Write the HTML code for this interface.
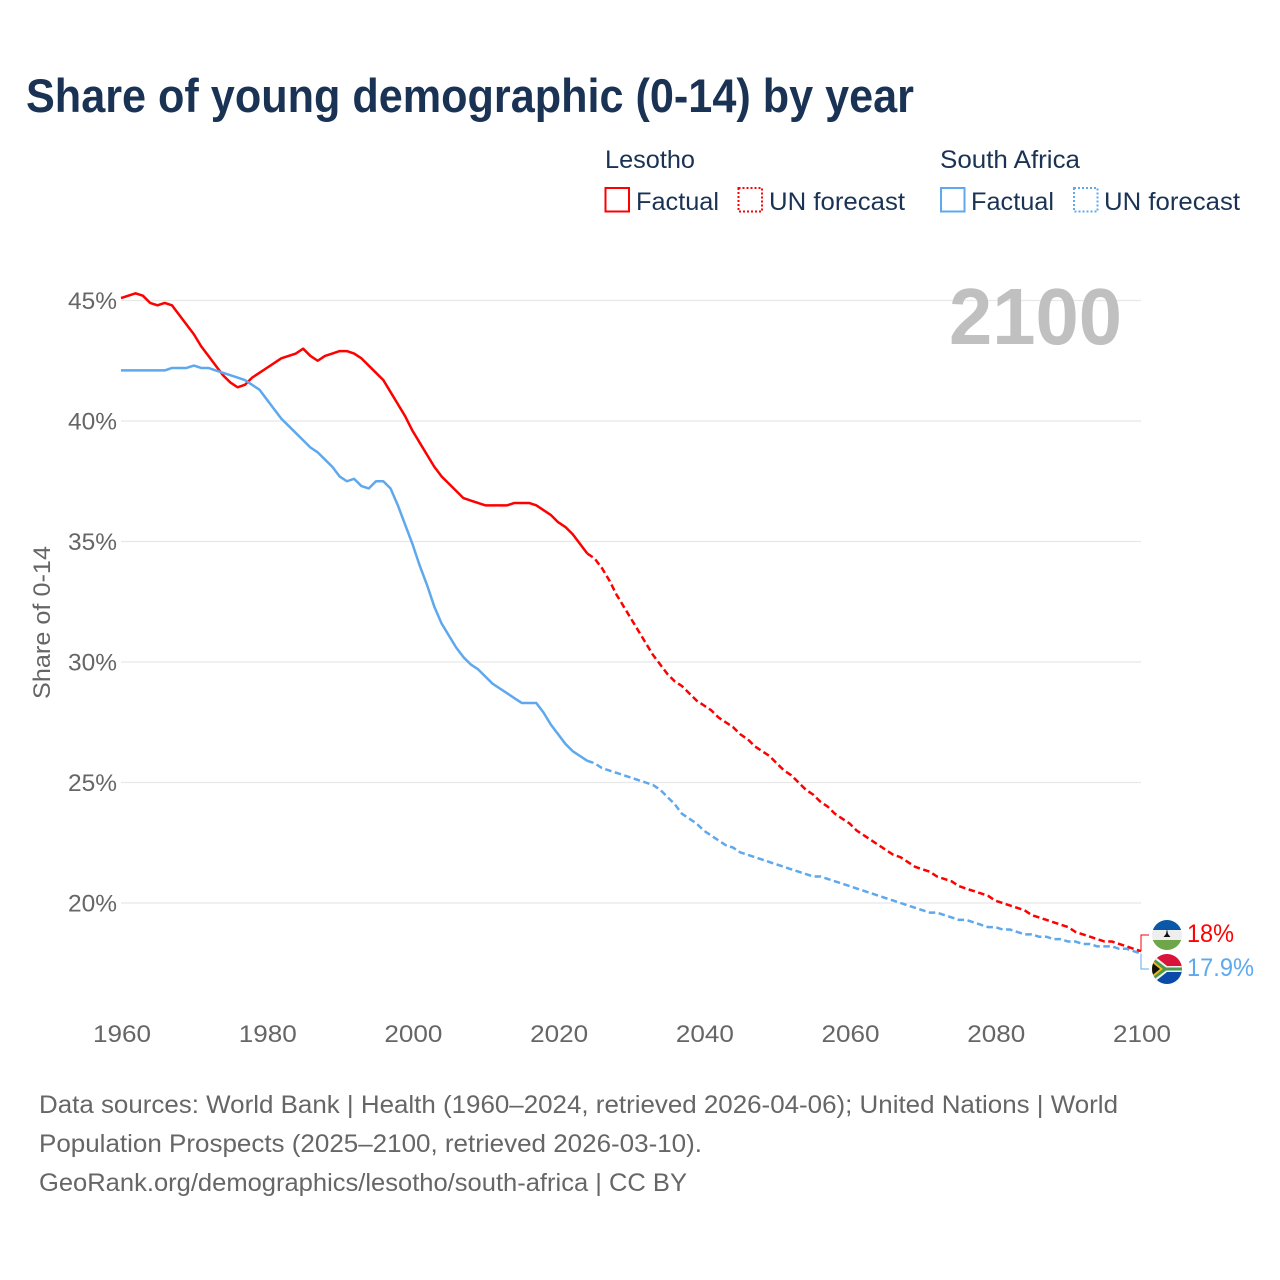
<!DOCTYPE html>
<html lang="en">
<head>
<meta charset="utf-8">
<title>Share of young demographic (0-14) by year</title>
<style>
html,body{margin:0;padding:0;background:#fff;}
svg{display:block;font-family:"Liberation Sans",sans-serif;}
.leg{font-size:25px;fill:#1a3355;}
.tick{font-size:24px;fill:#666;}
.src{font-size:25px;fill:#666;}
</style>
</head>
<body>
<svg id="chart" width="1280" height="1280" viewBox="0 0 1280 1280" xmlns="http://www.w3.org/2000/svg">
<defs>
<clipPath id="clip-ls"><circle cx="1167" cy="935" r="15"/></clipPath>
<clipPath id="clip-za"><circle cx="1167" cy="969" r="15"/></clipPath>
</defs>
<rect width="1280" height="1280" fill="#fff"/>
<text x="26" y="112" font-size="47" font-weight="700" fill="#1a3355" textLength="888" lengthAdjust="spacingAndGlyphs">Share of young demographic (0-14) by year</text>

<g>
<text class="leg" x="605" y="168" textLength="90" lengthAdjust="spacingAndGlyphs">Lesotho</text>
<text class="leg" x="940" y="168" textLength="140" lengthAdjust="spacingAndGlyphs">South Africa</text>
<rect x="605.5" y="188" width="23.5" height="23.5" fill="none" stroke="#ff0000" stroke-width="2"/>
<text class="leg" x="636" y="210" textLength="83" lengthAdjust="spacingAndGlyphs">Factual</text>
<rect x="738.5" y="188" width="23.5" height="23.5" fill="none" stroke="#ff0000" stroke-width="2" stroke-dasharray="2 2"/>
<text class="leg" x="769" y="210" textLength="136" lengthAdjust="spacingAndGlyphs">UN forecast</text>
<rect x="941" y="188" width="23.5" height="23.5" fill="none" stroke="#5ea8ee" stroke-width="2"/>
<text class="leg" x="971" y="210" textLength="83" lengthAdjust="spacingAndGlyphs">Factual</text>
<rect x="1074" y="188" width="23.5" height="23.5" fill="none" stroke="#5ea8ee" stroke-width="2" stroke-dasharray="2 2"/>
<text class="leg" x="1104" y="210" textLength="136" lengthAdjust="spacingAndGlyphs">UN forecast</text>
</g>

<g id="grid"></g>
<g id="yticks"></g>
<g id="xticks"></g>
<text class="tick" transform="translate(50,622.5) rotate(-90)" text-anchor="middle" textLength="153" lengthAdjust="spacingAndGlyphs">Share of 0-14</text>
<text x="949" y="344" font-size="80" font-weight="700" fill="#c0c0c0" textLength="173" lengthAdjust="spacingAndGlyphs">2100</text>
<g id="series"></g>

<g clip-path="url(#clip-ls)">
<rect x="1152" y="920" width="30" height="10" fill="#0a58a8"/>
<rect x="1152" y="930" width="30" height="10" fill="#eeeeee"/>
<rect x="1152" y="940" width="30" height="10" fill="#6fa64a"/>
<path d="M1167 929 L1168 934 L1170.5 937 L1163.5 937 L1166 934 Z" fill="#111"/>
</g>
<g clip-path="url(#clip-za)">
<rect x="1152" y="954" width="30" height="15" fill="#d8143a"/>
<rect x="1152" y="969" width="30" height="15" fill="#0a4aa8"/>
<path d="M1152 954 L1167 966 L1182 966 L1182 972 L1167 972 L1152 984 Z" fill="#f2f2f2"/>
<path d="M1152 957 L1166 967.5 L1182 967.5 L1182 970.5 L1166 970.5 L1152 981 Z" fill="#4a9a4a"/>
<path d="M1152 960 L1163 969 L1152 978 Z" fill="#f4b820"/>
<path d="M1152 962.5 L1160 969 L1152 975.5 Z" fill="#111"/>
</g>

<g id="labels"></g>

<g>
<text class="src" x="39" y="1113" textLength="1079" lengthAdjust="spacingAndGlyphs">Data sources: World Bank | Health (1960–2024, retrieved 2026-04-06); United Nations | World</text>
<text class="src" x="39" y="1152" textLength="663" lengthAdjust="spacingAndGlyphs">Population Prospects (2025–2100, retrieved 2026-03-10).</text>
<text class="src" x="39" y="1191" textLength="648" lengthAdjust="spacingAndGlyphs">GeoRank.org/demographics/lesotho/south-africa | CC BY</text>
</g>
</svg>
<script>
var yTickValues = [45, 40, 35, 30, 25, 20];
var xTickValues = [1960, 1980, 2000, 2020, 2040, 2060, 2080, 2100];
var startYear = 1960;
var forecastStartYear = 2025;
var lesothoValues = [
45.1,45.2,45.3,45.2,44.9,44.8,44.9,44.8,44.4,44.0,
43.6,43.1,42.7,42.3,41.9,41.6,41.4,41.5,41.8,42.0,
42.2,42.4,42.6,42.7,42.8,43.0,42.7,42.5,42.7,42.8,
42.9,42.9,42.8,42.6,42.3,42.0,41.7,41.2,40.7,40.2,
39.6,39.1,38.6,38.1,37.7,37.4,37.1,36.8,36.7,36.6,
36.5,36.5,36.5,36.5,36.6,36.6,36.6,36.5,36.3,36.1,
35.8,35.6,35.3,34.9,34.5,34.3,33.9,33.4,32.8,32.3,
31.8,31.3,30.8,30.3,29.9,29.5,29.2,29.0,28.7,28.4,
28.2,28.0,27.7,27.5,27.3,27.0,26.8,26.5,26.3,26.1,
25.8,25.5,25.3,25.0,24.7,24.5,24.2,24.0,23.7,23.5,
23.3,23.0,22.8,22.6,22.4,22.2,22.0,21.9,21.7,21.5,
21.4,21.3,21.1,21.0,20.9,20.7,20.6,20.5,20.4,20.3,
20.1,20.0,19.9,19.8,19.7,19.5,19.4,19.3,19.2,19.1,
19.0,18.8,18.7,18.6,18.5,18.4,18.4,18.3,18.2,18.1,
18.0];
var southAfricaValues = [
42.1,42.1,42.1,42.1,42.1,42.1,42.1,42.2,42.2,42.2,
42.3,42.2,42.2,42.1,42.0,41.9,41.8,41.7,41.5,41.3,
40.9,40.5,40.1,39.8,39.5,39.2,38.9,38.7,38.4,38.1,
37.7,37.5,37.6,37.3,37.2,37.5,37.5,37.2,36.5,35.7,
34.9,34.0,33.2,32.3,31.6,31.1,30.6,30.2,29.9,29.7,
29.4,29.1,28.9,28.7,28.5,28.3,28.3,28.3,27.9,27.4,
27.0,26.6,26.3,26.1,25.9,25.8,25.6,25.5,25.4,25.3,
25.2,25.1,25.0,24.9,24.7,24.4,24.1,23.7,23.5,23.3,
23.0,22.8,22.6,22.4,22.3,22.1,22.0,21.9,21.8,21.7,
21.6,21.5,21.4,21.3,21.2,21.1,21.1,21.0,20.9,20.8,
20.7,20.6,20.5,20.4,20.3,20.2,20.1,20.0,19.9,19.8,
19.7,19.6,19.6,19.5,19.4,19.3,19.3,19.2,19.1,19.0,
19.0,18.9,18.9,18.8,18.7,18.7,18.6,18.6,18.5,18.5,
18.4,18.4,18.3,18.3,18.2,18.2,18.2,18.1,18.1,18.0,
17.9];

var NS = 'http://www.w3.org/2000/svg';
function xScale(year) { return 121 + (year - 1960) * (1141 - 121) / 140; }
function yScale(v) { return 300.5 + (45 - v) * 24.1; }
function make(tag, attrs, parent, text) {
  var el = document.createElementNS(NS, tag);
  for (var k in attrs) el.setAttribute(k, attrs[k]);
  if (text !== undefined) el.textContent = text;
  parent.appendChild(el);
  return el;
}
function pathFor(values, from, to) {
  var pts = [];
  for (var i = 0; i < values.length; i++) {
    var yr = startYear + i;
    if (yr >= from && yr <= to) pts.push(xScale(yr).toFixed(2) + ',' + yScale(values[i]).toFixed(2));
  }
  return 'M' + pts.join('L');
}

var grid = document.getElementById('grid');
var yticks = document.getElementById('yticks');
var xticks = document.getElementById('xticks');
var series = document.getElementById('series');
var labels = document.getElementById('labels');

yTickValues.forEach(function (v) {
  var line = make('line', {x1: 121, x2: 1141, y1: yScale(v), y2: yScale(v), stroke: '#e8e8e8', 'stroke-width': 1.2}, grid);
  
  
  var t = make('text', {'class': 'tick', x: 117, y: yScale(v) + 8.5, 'text-anchor': 'end', textLength: 49, lengthAdjust: 'spacingAndGlyphs'}, yticks, v + '%');
  
  
});
xTickValues.forEach(function (yr) {
  var t = make('text', {'class': 'tick', x: xScale(yr) + 1, y: 1042, 'text-anchor': 'middle', textLength: 58, lengthAdjust: 'spacingAndGlyphs'}, xticks, String(yr));
  
  
});

var lesothoFact = make('path', {d: pathFor(lesothoValues, startYear, forecastStartYear - 1), fill: 'none', stroke: '#ff0000', 'stroke-width': 2.5, 'stroke-linejoin': 'round'}, series);


var saFact = make('path', {d: pathFor(southAfricaValues, startYear, forecastStartYear - 1), fill: 'none', stroke: '#5ea8ee', 'stroke-width': 2.5, 'stroke-linejoin': 'round'}, series);


var saFore = make('path', {d: pathFor(southAfricaValues, forecastStartYear - 1, 2100), fill: 'none', stroke: '#5ea8ee', 'stroke-width': 2.5, 'stroke-dasharray': '6.5 3.5'}, series);


var lesothoFore = make('path', {d: pathFor(lesothoValues, forecastStartYear - 1, 2100), fill: 'none', stroke: '#ff0000', 'stroke-width': 2.5, 'stroke-dasharray': '6.5 3.5'}, series);



var lsLast = lesothoValues[lesothoValues.length - 1];
var zaLast = southAfricaValues[southAfricaValues.length - 1];
var conn1 = make('path', {d: 'M1141 ' + yScale(lsLast) + 'V935H1149', fill: 'none', stroke: '#ff0000', 'stroke-width': 1}, labels);


var conn2 = make('path', {d: 'M1141 ' + yScale(zaLast) + 'V969H1149', fill: 'none', stroke: '#5ea8ee', 'stroke-width': 1}, labels);


var lab1 = make('text', {x: 1187, y: 942, 'font-size': 25, fill: '#ff0000', textLength: 47, lengthAdjust: 'spacingAndGlyphs'}, labels, lsLast + '%');


var lab2 = make('text', {x: 1187, y: 976, 'font-size': 25, fill: '#5ea8ee', textLength: 67, lengthAdjust: 'spacingAndGlyphs'}, labels, zaLast + '%');


</script>
</body>
</html>
